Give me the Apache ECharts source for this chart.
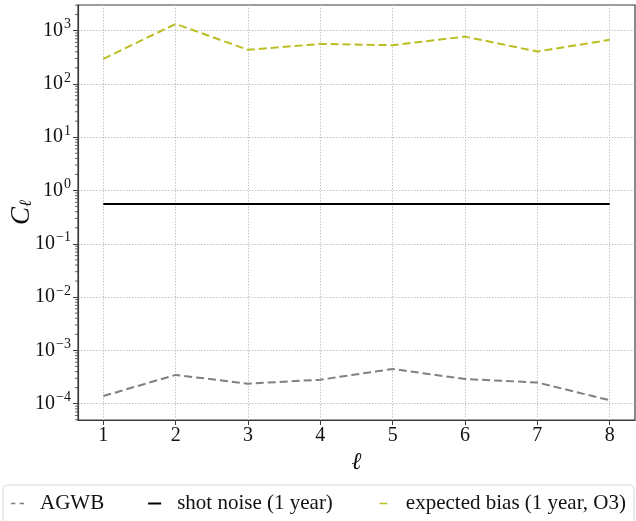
<!DOCTYPE html>
<html>
<head>
<meta charset="utf-8">
<script src="https://cdn.jsdelivr.net/npm/echarts@6/dist/echarts.min.js"></script>
<style>html,body{margin:0;padding:0;background:#fff;}#c{width:636px;height:521px;}</style>
</head>
<body>
<div id="c"></div>
<script>
const ells = [1, 2, 3, 4, 5, 6, 7, 8];
const agwb = [1.39e-4, 3.47e-4, 2.37e-4, 2.82e-4, 4.48e-4, 2.9e-4, 2.5e-4, 1.16e-4];
const shotNoise = [0.56, 0.56, 0.56, 0.56, 0.56, 0.56, 0.56, 0.56];
const expectedBias = [295, 1335, 435, 562, 532, 771, 405, 670];
const yMajorTicks = [1e-4, 1e-3, 1e-2, 1e-1, 1, 10, 100, 1000];
const xTicks = [1, 2, 3, 4, 5, 6, 7, 8];

const X_MIN = 0.65, X_MAX = 8.35;
const Y_MIN = Math.pow(10, -4.306), Y_MAX = Math.pow(10, 3.48);

const minorTicks = [];
for (let k = -5; k <= 3; k++) {
  for (let m = 2; m <= 9; m++) {
    const v = m * Math.pow(10, k);
    if (v > Y_MIN && v < Y_MAX) minorTicks.push(v);
  }
}

const FONT = 'Liberation Serif';
const pair = (xs, ys) => xs.map((x, i) => [x, ys[i]]);
const sup = e => String(e).replace('-', '\u2212');

const chart = echarts.init(document.getElementById('c'), null, {renderer: 'canvas'});
chart.setOption({
  animation: false,
  backgroundColor: '#fff',
  textStyle: {fontFamily: FONT},
  grid: {left: 78, right: 1, top: 5, bottom: 101, show: true, borderColor: '#3c3c3c', borderWidth: 1.2,
         containLabel: false, outerBoundsMode: 'none'},
  xAxis: {
    type: 'value', min: X_MIN, max: X_MAX,
    name: 'ℓ', nameLocation: 'middle', nameGap: 20,
    nameTextStyle: {fontFamily: FONT, fontSize: 24, fontStyle: 'italic', color: '#111'},
    axisLine: {show: true, lineStyle: {color: '#3c3c3c', width: 1.2}},
    axisTick: {show: true, length: 5, customValues: xTicks, lineStyle: {color: '#3c3c3c'}},
    axisLabel: {customValues: xTicks, fontFamily: FONT, fontSize: 20, color: '#111', margin: 6},
    splitLine: {show: true, lineStyle: {color: '#c4c4c4', type: [1.5, 1.5], width: 1}}
  },
  yAxis: {
    type: 'log', logBase: 10, min: Y_MIN, max: Y_MAX,
    name: '{c|C}{s|ℓ}', nameLocation: 'middle', nameGap: 43, nameRotate: 90, nameMoveOverlap: false,
    nameTextStyle: {rich: {
      c: {fontFamily: FONT, fontSize: 27, fontStyle: 'italic', color: '#111'},
      s: {fontFamily: FONT, fontSize: 17, fontStyle: 'italic', color: '#111', padding: [10, 0, 0, 0]}
    }},
    axisLine: {show: true, lineStyle: {color: '#3c3c3c', width: 1.2}},
    axisTick: {show: true, length: 5, customValues: yMajorTicks, lineStyle: {color: '#3c3c3c'}},
    axisLabel: {
      customValues: yMajorTicks, margin: 7,
      formatter: v => '{b|10}{s|' + sup(Math.round(Math.log10(v))) + '}',
      rich: {
        b: {fontFamily: FONT, fontSize: 20, color: '#111'},
        s: {fontFamily: FONT, fontSize: 14, color: '#111', padding: [0, 0, 12, 1]}
      }
    },
    splitLine: {show: true, lineStyle: {color: '#c4c4c4', type: [1.5, 1.5], width: 1}}
  },
  legend: {
    left: 3, top: 485, orient: 'horizontal',
    padding: [8, 8, 20, 8],
    borderColor: '#d8d8d8', borderWidth: 1, borderRadius: 4,
    itemWidth: 13, itemHeight: 2, itemGap: 44,
    textStyle: {fontFamily: FONT, fontSize: 21, color: '#111', padding: [0, 0, 0, 11]},
    data: [
      {name: 'AGWB', icon: 'path://M0,0 L4,0 L4,1.5 L0,1.5 Z M8,0 L12,0 L12,1.5 L8,1.5 Z', itemStyle: {color: '#808080'}, lineStyle: {width: 0}},
      {name: 'shot noise (1 year)', icon: 'path://M0,0 L13,0 L13,2 L0,2 Z', itemStyle: {color: '#000'}, lineStyle: {width: 0}},
      {name: 'expected bias (1 year, O3)', icon: 'path://M0,0 L0.01,0 L0.01,2 L0,2 Z M3,0 L12,0 L12,2 L3,2 Z M14.99,0 L15,0 L15,2 L14.99,2 Z', itemStyle: {color: '#bcbd22'}, lineStyle: {width: 0}}
    ]
  },
  series: [
    {
      name: 'AGWB', type: 'line', data: pair(ells, agwb), showSymbol: false,
      lineStyle: {color: '#808080', width: 2, type: [8, 4]}, itemStyle: {color: '#808080'}
    },
    {
      name: 'shot noise (1 year)', type: 'line', data: pair(ells, shotNoise), showSymbol: false,
      lineStyle: {color: '#000', width: 2}, itemStyle: {color: '#000'}
    },
    {
      name: 'expected bias (1 year, O3)', type: 'line', data: pair(ells, expectedBias), showSymbol: false,
      lineStyle: {color: '#bcbd22', width: 2, type: [8, 4]}, itemStyle: {color: '#bcbd22'}
    },
    {
      name: '_minor', type: 'custom', silent: true, clip: false,
      data: minorTicks.map(v => [X_MIN, v]),
      renderItem: (params, api) => {
        const p = api.coord([api.value(0), api.value(1)]);
        return {type: 'line', shape: {x1: p[0] - 3, y1: p[1], x2: p[0], y2: p[1]}, style: {stroke: '#3c3c3c', lineWidth: 0.8}};
      }
    }
  ]
});
</script>
</body>
</html>
